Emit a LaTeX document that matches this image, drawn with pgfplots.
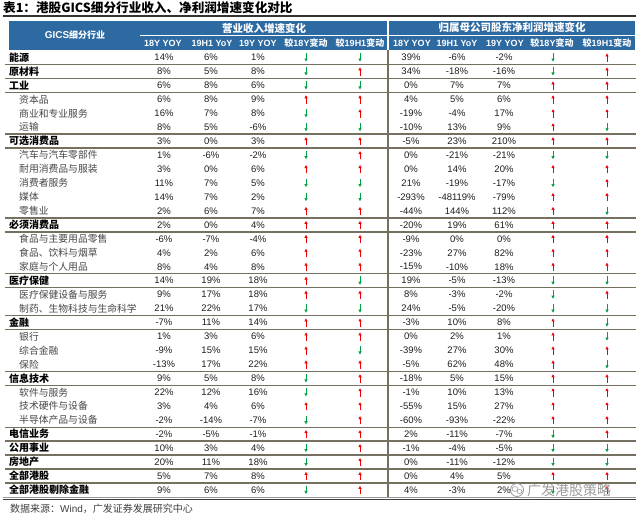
\documentclass[border=0pt]{standalone}
\usepackage{fontspec}
\setmainfont{Liberation Sans}
\newfontfamily\cjk{Noto Sans CJK SC}
\usepackage{pgfplots}
\pgfplotsset{compat=1.18}
\usepackage{pgfplotstable}
\usetikzlibrary{arrows.meta}
\definecolor{hdr}{RGB}{46,106,162}
\definecolor{linec}{RGB}{118,112,96}
\definecolor{numc}{RGB}{30,30,30}
\newcommand{\zh}[1]{{\cjk #1}}

\pgfplotstableread{
name lev r18 rH1 r19 ra rb p18 pH1 p19 pa pb
能源 0 14 6 1 -1 -1 39 -6 -2 -1 1
原材料 0 8 5 8 -1 1 34 -18 -16 -1 1
工业 0 6 8 6 -1 -1 0 7 7 1 1
资本品 1 6 8 9 1 1 4 5 6 1 1
商业和专业服务 1 16 7 8 -1 1 -19 -4 17 1 1
运输 1 8 5 -6 -1 -1 -10 13 9 1 -1
可选消费品 0 3 0 3 1 1 -5 23 210 1 1
汽车与汽车零部件 1 1 -6 -2 -1 1 0 -21 -21 -1 -1
耐用消费品与服装 1 3 0 6 1 1 0 14 20 1 1
消费者服务 1 11 7 5 -1 -1 21 -19 -17 -1 1
媒体 1 14 7 2 -1 -1 -293 -48119 -79 1 1
零售业 1 2 6 7 1 1 -44 144 112 1 -1
必须消费品 0 2 0 4 1 1 -20 19 61 1 1
食品与主要用品零售 1 -6 -7 -4 1 1 -9 0 0 1 1
食品、饮料与烟草 1 4 2 6 1 1 -23 27 82 1 1
家庭与个人用品 1 8 4 8 1 1 -15 -10 18 1 1
医疗保健 0 14 19 18 1 -1 19 -5 -13 -1 -1
医疗保健设备与服务 1 9 17 18 1 1 8 -3 -2 -1 1
制药、生物科技与生命科学 1 21 22 17 -1 -1 24 -5 -20 -1 -1
金融 0 -7 11 14 1 1 -3 10 8 1 -1
银行 1 1 3 6 1 1 0 2 1 1 -1
综合金融 1 -9 15 15 1 -1 -39 27 30 1 1
保险 1 -13 17 22 1 1 -5 62 48 1 -1
信息技术 0 9 5 8 -1 1 -18 5 15 1 1
软件与服务 1 22 12 16 -1 1 -1 10 13 1 1
技术硬件与设备 1 3 4 6 1 1 -55 15 27 1 1
半导体产品与设备 1 -2 -14 -7 -1 1 -60 -93 -22 1 1
电信业务 0 -2 -5 -1 1 1 2 -11 -7 -1 1
公用事业 0 10 3 4 -1 1 -1 -4 -5 -1 -1
房地产 0 20 11 18 -1 1 0 -11 -12 -1 -1
全部港股 0 5 7 8 1 1 0 4 5 1 1
全部港股剔除金融 0 9 6 6 -1 1 4 -3 2 -1 1
}\tbl

\tikzset{
  hd2/.style={text=white, inner sep=0pt, font=\bfseries\fontsize{9}{11}\selectfont},
  hd1/.style={text=white, inner sep=0pt, font=\cjk\bfseries\fontsize{10.5}{12}\selectfont},
}
\pgfplotsset{
  cell/.style={only marks, mark=none, point meta=explicit symbolic, forget plot,
    nodes near coords={\pgfplotspointmeta\%},
    every node near coord/.append style={anchor=center, inner sep=0pt, text=numc,
      font=\fontsize{9.5}{10}\selectfont}},
  arr/.style={forget plot, mark=none, point meta=\thisrow{#1},
    point meta min=-1, point meta max=1,
    quiver={u=0, v={-8.5*\thisrow{#1}}, colored=mapped color,
      every arrow/.append style={-{Latex[length=3.2pt,width=3.6pt]}, line width=1pt}}},
  hl/.style={draw=linec, line width=1.4pt, forget plot},
}
\newcommand{\rowrule}[1]{\addplot[hl] coordinates {(5,#1) (636,#1)};}

\begin{document}
\begin{tikzpicture}
\begin{axis}[scale only axis, width=641pt, height=518pt,
  xmin=0, xmax=641, ymin=0, ymax=518, y dir=reverse,
  hide axis, clip=false,
  colormap={ud}{rgb255=(0,160,70) rgb255=(240,0,0)},
]
% background
\addplot[fill=white, draw=none, forget plot] coordinates {(0,0) (641,0) (641,518) (0,518)} -- cycle;
% title
\node[anchor=west, inner sep=0pt, text=black, font=\cjk\bfseries\fontsize{12.6}{14}\selectfont] at (axis cs:3,8) {表1：港股GICS细分行业收入、净利润增速变化对比};
\addplot[draw=black!80, line width=1.4pt, forget plot] coordinates {(3,16) (636,16)};
% header
\addplot[fill=hdr, draw=none, forget plot] coordinates {(9,21) (635,21) (635,50) (9,50)} -- cycle;
\addplot[draw=white, line width=0.8pt, forget plot] coordinates {(140,35.5) (635,35.5)};
\addplot[draw=white, line width=1.2pt, forget plot] coordinates {(388,21) (388,50)};
\node[text=white, inner sep=0pt, font=\bfseries\fontsize{10}{12}\selectfont] at (axis cs:75,35.5) {GICS{\cjk\fontsize{9}{11}\selectfont 细分行业}};
\node[hd1] at (axis cs:264,28) {营业收入增速变化};
\node[hd1] at (axis cs:512,28) {归属母公司股东净利润增速变化};
\node[hd2] at (axis cs:163,43) {18Y YOY};
\node[hd2] at (axis cs:212,43) {19H1 YoY};
\node[hd2] at (axis cs:258,43) {19Y YOY};
\node[hd2] at (axis cs:306,43) {\zh{较}18Y\zh{变动}};
\node[hd2] at (axis cs:360,43) {\zh{较}19H1\zh{变动}};
\node[hd2] at (axis cs:412,43) {18Y YOY};
\node[hd2] at (axis cs:457,43) {19H1 YoY};
\node[hd2] at (axis cs:505,43) {19Y YOY};
\node[hd2] at (axis cs:552,43) {\zh{较}18Y\zh{变动}};
\node[hd2] at (axis cs:607,43) {\zh{较}19H1\zh{变动}};
% row rules
\rowrule{64.5}\rowrule{78.4}\rowrule{92.4}\rowrule{134.2}\rowrule{148.2}
\rowrule{218.0}\rowrule{231.9}\rowrule{273.8}\rowrule{287.7}\rowrule{315.6}
\rowrule{329.6}\rowrule{371.4}\rowrule{385.4}\rowrule{427.3}\rowrule{441.2}
\rowrule{455.2}\rowrule{469.1}\rowrule{483.1}
\addplot[draw=black!40, line width=0.6pt, forget plot] coordinates {(3,497) (636,497)};
\addplot[draw=black!75, line width=1.6pt, forget plot] coordinates {(3,499.5) (636,499.5)};
\addplot[draw=linec, line width=1.5pt, forget plot] coordinates {(388,50) (388,497)};
% names
\addplot[only marks, mark=none, point meta=explicit symbolic, forget plot,
  restrict expr to domain={\thisrow{lev}}{-0.5:0.5},
  nodes near coords={\pgfplotspointmeta},
  every node near coord/.append style={anchor=west, inner sep=0pt, text=black,
    font=\cjk\bfseries\fontsize{10}{11}\selectfont}]
  table[x expr=9, y expr={57.5+13.95*\coordindex}, meta=name] {\tbl};
\addplot[only marks, mark=none, point meta=explicit symbolic, forget plot,
  restrict expr to domain={\thisrow{lev}}{0.5:1.5},
  nodes near coords={\pgfplotspointmeta},
  every node near coord/.append style={anchor=west, inner sep=0pt, text=black!72,
    font=\cjk\fontsize{9.8}{11}\selectfont}]
  table[x expr=19, y expr={57.5+13.95*\coordindex}, meta=name] {\tbl};
% numbers
\addplot[cell] table[x expr=164, y expr={57.5+13.95*\coordindex}, meta=r18] {\tbl};
\addplot[cell] table[x expr=211, y expr={57.5+13.95*\coordindex}, meta=rH1] {\tbl};
\addplot[cell] table[x expr=258, y expr={57.5+13.95*\coordindex}, meta=r19] {\tbl};
\addplot[cell] table[x expr=411, y expr={57.5+13.95*\coordindex}, meta=p18] {\tbl};
\addplot[cell] table[x expr=457, y expr={57.5+13.95*\coordindex}, meta=pH1] {\tbl};
\addplot[cell] table[x expr=504, y expr={57.5+13.95*\coordindex}, meta=p19] {\tbl};
% arrows
\addplot[arr=ra] table[x expr=306, y expr={57.5+13.95*\coordindex+4.25*\thisrow{ra}}] {\tbl};
\addplot[arr=rb] table[x expr=360, y expr={57.5+13.95*\coordindex+4.25*\thisrow{rb}}] {\tbl};
\addplot[arr=pa] table[x expr=553, y expr={57.5+13.95*\coordindex+4.25*\thisrow{pa}}] {\tbl};
\addplot[arr=pb] table[x expr=607, y expr={57.5+13.95*\coordindex+4.25*\thisrow{pb}}] {\tbl};
% source
\node[anchor=west, inner sep=0pt, text=black!75, font=\cjk\fontsize{10}{12}\selectfont] at (axis cs:10,509) {数据来源：{\rmfamily Wind}，广发证券发展研究中心};
% watermark
\draw[black!40, line width=0.8pt] (axis cs:517,490) circle[radius=6.5pt];
\draw[black!40, line width=0.6pt] (axis cs:515,489) ellipse[x radius=3pt, y radius=2.4pt];
\draw[black!40, line width=0.6pt] (axis cs:519.5,491.5) ellipse[x radius=2.6pt, y radius=2pt];
\node[anchor=west, inner sep=0pt, text=black!45, opacity=0.85, font=\cjk\fontsize{14}{16}\selectfont] at (axis cs:527,490) {广发港股策略};
\end{axis}
\end{tikzpicture}
\end{document}
